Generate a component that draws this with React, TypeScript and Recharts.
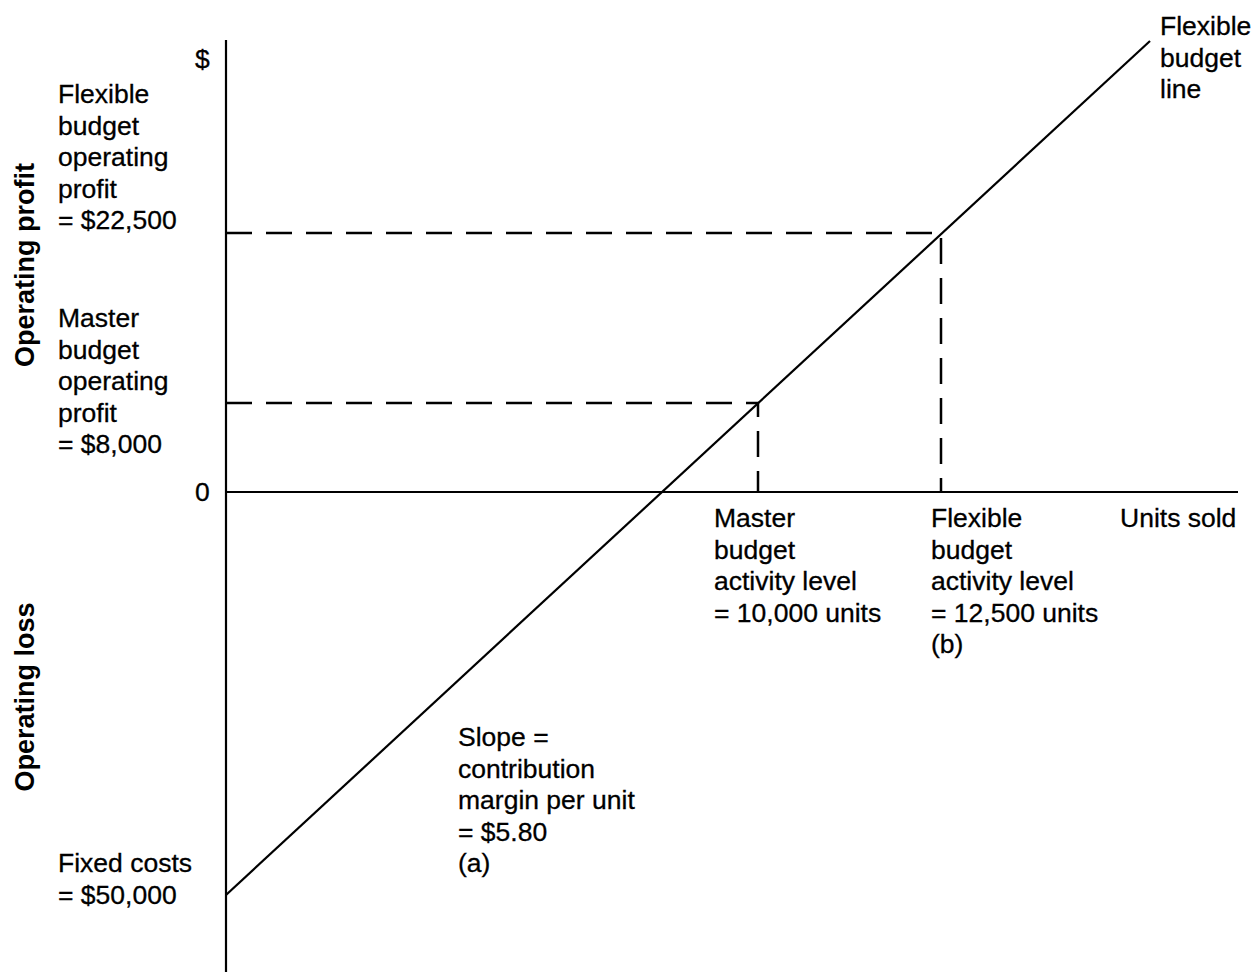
import React from 'react';
import { ComposedChart, Line, XAxis, YAxis, ReferenceLine, Customized } from 'recharts';

// schematic chart units (diagram is not drawn to scale)
const xDomain = [0, 1012];
const yDomain = [-480, 452];

const flexibleBudgetLine = [
  { x: 0, y: -403 },
  { x: 924, y: 451 },
];
const masterGuide = [
  { x: 0, y: 89 },
  { x: 532, y: 89 },
  { x: 532, y: 0 },
];
const flexibleGuide = [
  { x: 0, y: 259 },
  { x: 715, y: 259 },
  { x: 715, y: 0 },
];

const labels = [
  { x: 58, y: 103, lines: ['Flexible', 'budget', 'operating', 'profit', '= $22,500'] },
  { x: 58, y: 327, lines: ['Master', 'budget', 'operating', 'profit', '= $8,000'] },
  { x: 58, y: 872, lines: ['Fixed costs', '= $50,000'] },
  { x: 714, y: 527, lines: ['Master', 'budget', 'activity level', '= 10,000 units'] },
  { x: 931, y: 527, lines: ['Flexible', 'budget', 'activity level', '= 12,500 units', '(b)'] },
  { x: 1120, y: 527, lines: ['Units sold'] },
  { x: 458, y: 746, lines: ['Slope =', 'contribution', 'margin per unit', '= $5.80', '(a)'] },
  { x: 1160, y: 35, lines: ['Flexible', 'budget', 'line'] },
  { x: 195, y: 68, lines: ['$'] },
  { x: 195, y: 501, lines: ['0'] },
];

const axisTitles = [
  { text: 'Operating profit', x: 34, y: 265 },
  { text: 'Operating loss', x: 34, y: 697 },
];

const font = '"Liberation Sans", Arial, Helvetica, sans-serif';

function Annotations() {
  return (
    <g>
      {labels.map((l, i) => (
        <text key={i} x={l.x} y={l.y} fontFamily={font} fontSize={26.5} fill="#000" stroke="#000" strokeWidth={0.3}>
          {l.lines.map((line, j) => (
            <tspan key={j} x={l.x} dy={j === 0 ? 0 : 31.5}>{line}</tspan>
          ))}
        </text>
      ))}
      {axisTitles.map((t) => (
        <text
          key={t.text}
          x={t.x}
          y={t.y}
          fontFamily={font}
          fontSize={27}
          fontWeight="bold"
          textAnchor="middle"
          transform={`rotate(-90, ${t.x}, ${t.y})`}
          fill="#000"
        >
          {t.text}
        </text>
      ))}
    </g>
  );
}

export default function App() {
  return (
    <div style={{ position: 'absolute', left: 0, top: 0, width: 1254, height: 972, background: '#fff' }}>
      <ComposedChart width={1254} height={972} margin={{ top: 40, right: 16, left: 226, bottom: 0 }}>
        <XAxis type="number" dataKey="x" domain={xDomain} hide allowDataOverflow />
        <YAxis type="number" dataKey="y" domain={yDomain} hide allowDataOverflow />
        <ReferenceLine x={0} stroke="#000" strokeWidth={2.2} />
        <ReferenceLine y={0} stroke="#000" strokeWidth={2.2} />
        <Line data={masterGuide} dataKey="y" stroke="#000" strokeWidth={2.5} strokeDasharray="26 14" dot={false} isAnimationActive={false} />
        <Line data={flexibleGuide} dataKey="y" stroke="#000" strokeWidth={2.5} strokeDasharray="26 14" dot={false} isAnimationActive={false} />
        <Line data={flexibleBudgetLine} dataKey="y" stroke="#000" strokeWidth={2.2} dot={false} isAnimationActive={false} />
        <Customized component={Annotations} />
      </ComposedChart>
    </div>
  );
}
